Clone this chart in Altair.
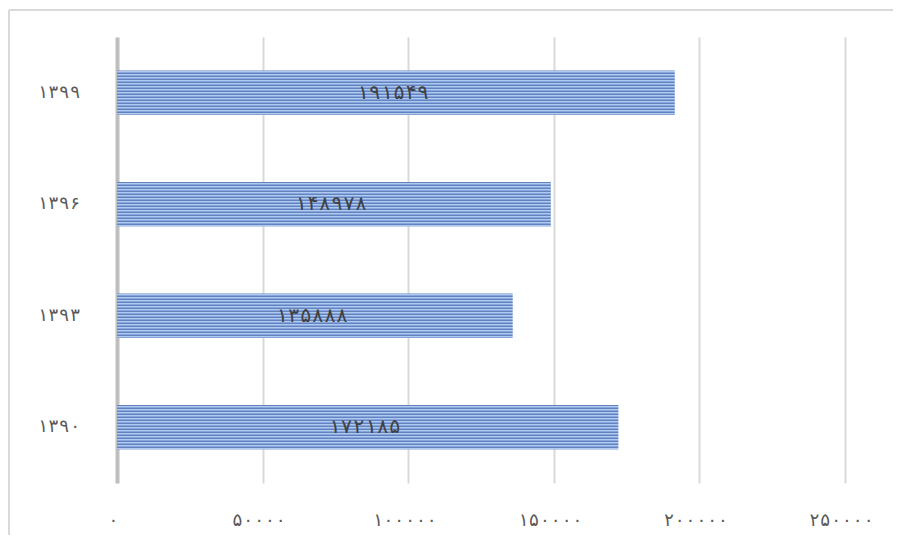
import altair as alt
import pandas as pd

years = ["۱۳۹۹", "۱۳۹۶", "۱۳۹۳", "۱۳۹۰"]
values = [191549, 148978, 135888, 172185]
value_labels = ["۱۹۱۵۴۹", "۱۴۸۹۷۸", "۱۳۵۸۸۸", "۱۷۲۱۸۵"]
x_ticks = [0, 50000, 100000, 150000, 200000, 250000]
x_tick_labels = ["۰", "۵۰۰۰۰", "۱۰۰۰۰۰", "۱۵۰۰۰۰", "۲۰۰۰۰۰", "۲۵۰۰۰۰"]

df = pd.DataFrame({"year": years, "value": values, "label": value_labels})

expr = "".join(
    f"datum.value == {v} ? '{l}' : " for v, l in zip(x_ticks, x_tick_labels)
) + "''"

stripe = ["#6283c0", "#b0c9ee", "#86a6dc"]
n = 15
stops = []
for i in range(n):
    for j, c in enumerate(stripe):
        a = (i * 3 + j) / (n * 3)
        b = (i * 3 + j + 1) / (n * 3)
        stops.append(alt.GradientStop(offset=a, color=c))
        stops.append(alt.GradientStop(offset=b, color=c))

grad = alt.Gradient(gradient="linear", stops=stops, x1=0, x2=0, y1=0, y2=1)

FONT = "DejaVu Sans Mono, DejaVu Sans"
W, H = 728, 446
PL, PT, PR, PB = 109, 29, 48, 52

y_enc = alt.Y("year:N", sort=years, title=None,
              scale=alt.Scale(paddingInner=0.6, paddingOuter=0.3),
              axis=alt.Axis(domain=True, domainColor="#bfbfbf", domainWidth=4,
                            ticks=False, labelPadding=37, labelFontSize=18,
                            labelColor="#595959", labelFont=FONT,
                            grid=False))

bars = alt.Chart(df).mark_bar(color=grad).encode(
    x=alt.X("value:Q", title=None,
            scale=alt.Scale(domain=[0, 250000], nice=False),
            axis=alt.Axis(values=x_ticks, labelExpr=expr, domain=False,
                          ticks=False, grid=True, gridColor="#d9d9d9",
                          gridWidth=2, labelPadding=28, labelFontSize=18,
                          labelFlush=False, labelOffset=-4,
                          labelColor="#595959", labelFont=FONT)),
    y=y_enc,
)

text = alt.Chart(df).mark_text(fontSize=20, color="#404040",
                               font=FONT, dx=-3).encode(
    x=alt.X("mid:Q", scale=alt.Scale(domain=[0, 250000], nice=False)),
    y=alt.Y("year:N", sort=years),
    text="label:N",
).transform_calculate(mid="datum.value / 2")

frame_top = alt.Chart(df).mark_rule(color="#d9d9d9", strokeWidth=2).encode(
    x=alt.value(-PL + 1), x2=alt.value(W + PR), y=alt.value(-PT + 2))
frame_left = alt.Chart(df).mark_rule(color="#d9d9d9", strokeWidth=2).encode(
    x=alt.value(-PL + 1), y=alt.value(-PT + 2), y2=alt.value(H + PB))

chart = alt.layer(bars, text, frame_top, frame_left).properties(
    width=W, height=H,
    padding={"left": PL, "top": PT, "right": PR, "bottom": PB},
    autosize=alt.AutoSizeParams(type="none"),
).configure_view(stroke=None)

chart.save("out.html", embed_options={"renderer": "svg", "actions": False})
